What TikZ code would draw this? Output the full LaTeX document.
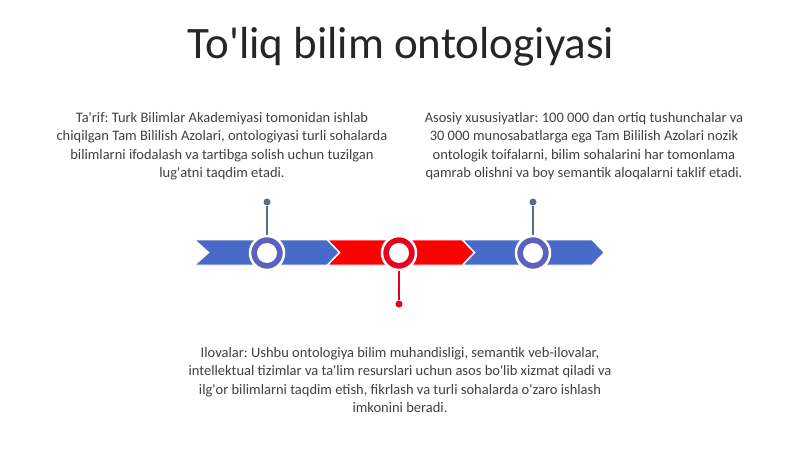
\documentclass[tikz,border=0pt]{standalone}
\usepackage{fontspec}
\setmainfont{Carlito}[Ligatures=TeXOff]
\frenchspacing
\definecolor{bandblue}{RGB}{72,106,200}
\definecolor{ringblue}{RGB}{92,96,192}
\definecolor{bandred}{RGB}{255,0,0}
\definecolor{ringred}{RGB}{232,0,30}
\definecolor{stemgray}{RGB}{95,107,138}
\definecolor{txtgray}{RGB}{64,64,64}

\begin{document}
\begin{tikzpicture}[x=1pt,y=-1pt,
seg/.style={%
draw=white,
line width=0.8pt,
},
ring/.style={%
circle,
draw=white,
line width=2.5pt,
minimum size=34pt,
inner sep=0pt,
fill=#1,
},
hole/.style={%
circle,
fill=white,
minimum size=20pt,
inner sep=0pt,
},
pin/.style={%
circle,
fill=#1,
minimum size=7pt,
inner sep=0pt,
},
info/.style={%
align=center,
font=\fontsize{14.5}{18.5}\selectfont,
text=txtgray,
},
]
\useasboundingbox (0,0) rectangle (800,449);
%% Title
\node[font=\fontsize{45}{50}\selectfont,text={black!85}]at(401,47)(title){To'liq bilim ontologiyasi};
%% Band
\fill[bandblue,seg](195,240)--(327,240)--(339,252.5)--(327,265)--(195,265)--(209,252.5)--cycle;
\fill[bandred,seg](328,240)--(462,240)--(474,252.5)--(462,265)--(328,265)--(340,252.5)--cycle;
\fill[bandblue,seg](463,240)--(592,240)--(604,252.5)--(592,265)--(463,265)--(475,252.5)--cycle;
%% Milestones
\node[ring=ringblue]at(267,253)(m1){};
\node[ring=ringred]at(399,253)(m2){};
\node[ring=ringblue]at(533,253)(m3){};
\foreach \m in {m1,m2,m3}{%
\node[hole]at(\m){};
}
\node[pin=stemgray]at(267,202)(d1){};
\node[pin=ringred]at(399,304)(d2){};
\node[pin=stemgray]at(533,202)(d3){};
\draw[stemgray,line width=1.2pt](m1.north)--(d1);
\draw[ringred,line width=1.2pt](m2.south)--(d2);
\draw[stemgray,line width=1.2pt](m3.north)--(d3);
%% Texts
\node[info]at(222,146)(t1){Ta'rif: Turk Bilimlar Akademiyasi tomonidan ishlab\\
chiqilgan Tam Bililish Azolari, ontologiyasi turli sohalarda\\
bilimlarni ifodalash va tartibga solish uchun tuzilgan\\
lug'atni taqdim etadi.};
\node[info]at(584,146)(t2){Asosiy xususiyatlar: 100 000 dan ortiq tushunchalar va\\
30 000 munosabatlarga ega Tam Bililish Azolari nozik\\
ontologik toifalarni, bilim sohalarini har tomonlama\\
qamrab olishni va boy semantik aloqalarni taklif etadi.};
\node[info]at(400,380)(t3){Ilovalar: Ushbu ontologiya bilim muhandisligi, semantik veb-ilovalar,\\
intellektual tizimlar va ta'lim resurslari uchun asos bo'lib xizmat qiladi va\\
ilg'or bilimlarni taqdim etish, fikrlash va turli sohalarda o'zaro ishlash\\
imkonini beradi.};
\end{tikzpicture}
\end{document}
